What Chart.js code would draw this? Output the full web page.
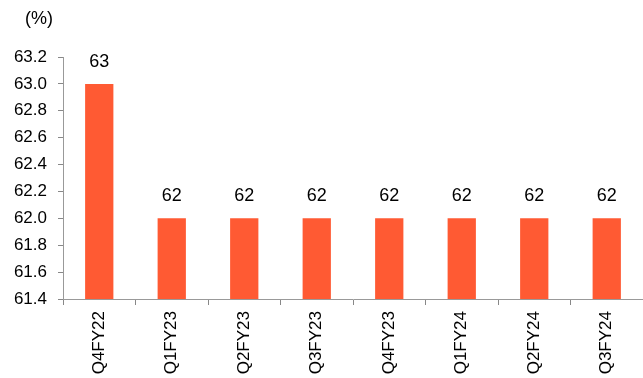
<!DOCTYPE html>
<html>
<head>
  <meta charset="UTF-8" />
  <title>Chart</title>
  <script src="https://cdn.jsdelivr.net/npm/chart.js"></script>
  <style>
    html, body { margin: 0; padding: 0; background: white; }
    #wrap { width: 643px; height: 378px; }
  </style>
</head>
<body>
  <div id="wrap"><canvas id="chart"></canvas></div>
  <script>
    const quarters = ['Q4FY22', 'Q1FY23', 'Q2FY23', 'Q3FY23', 'Q4FY23', 'Q1FY24', 'Q2FY24', 'Q3FY24'];
    const values = [63.0, 62.0, 62.0, 62.0, 62.0, 62.0, 62.0, 62.0];
    const valueLabels = ['63', '62', '62', '62', '62', '62', '62', '62'];
    const unitLabel = '(%)';

    const fontFamily = "'Liberation Sans', Arial, sans-serif";

    // draws the numbers above the bars and the unit label
    const labelPlugin = {
      id: 'labels',
      afterDatasetsDraw(chart) {
        const ctx = chart.ctx;
        const meta = chart.getDatasetMeta(0);
        ctx.save();
        ctx.fillStyle = '#000';
        ctx.font = '18px ' + fontFamily;
        ctx.textAlign = 'center';
        ctx.textBaseline = 'alphabetic';
        meta.data.forEach((bar, i) => {
          ctx.fillText(valueLabels[i], bar.x, bar.y - 17);
        });
        ctx.textAlign = 'left';
        ctx.textBaseline = 'top';
        ctx.fillText(unitLabel, 25, 10);
        ctx.restore();
      }
    };

    new Chart(document.getElementById('chart').getContext('2d'), {
      type: 'bar',
      data: {
        labels: quarters,
        datasets: [{
          data: values,
          backgroundColor: '#FF5A33',
          barPercentage: 0.39,
          categoryPercentage: 1.0
        }]
      },
      options: {
        responsive: true,
        maintainAspectRatio: false,
        animation: false,
        layout: { padding: { top: 57, left: 0, right: 0, bottom: 0 } },
        plugins: { legend: { display: false }, tooltip: { enabled: false } },
        scales: {
          x: {
            grid: { drawOnChartArea: false, tickLength: 6, color: '#888', offset: true },
            border: { color: '#999' },
            ticks: {
              color: '#000',
              font: { family: fontFamily, size: 17 },
              minRotation: 90,
              maxRotation: 90,
              padding: 6
            },
            afterFit(scale) { scale.height = 79; }
          },
          y: {
            min: 61.4,
            max: 63.2,
            grid: { drawOnChartArea: false, tickLength: 5, color: '#888' },
            border: { color: '#999' },
            ticks: {
              stepSize: 0.2,
              color: '#000',
              font: { family: fontFamily, size: 17 },
              padding: 11,
              callback: v => v.toFixed(1)
            },
            afterFit(scale) { scale.width = 63; }
          }
        }
      },
      plugins: [labelPlugin]
    });
  </script>
</body>
</html>
